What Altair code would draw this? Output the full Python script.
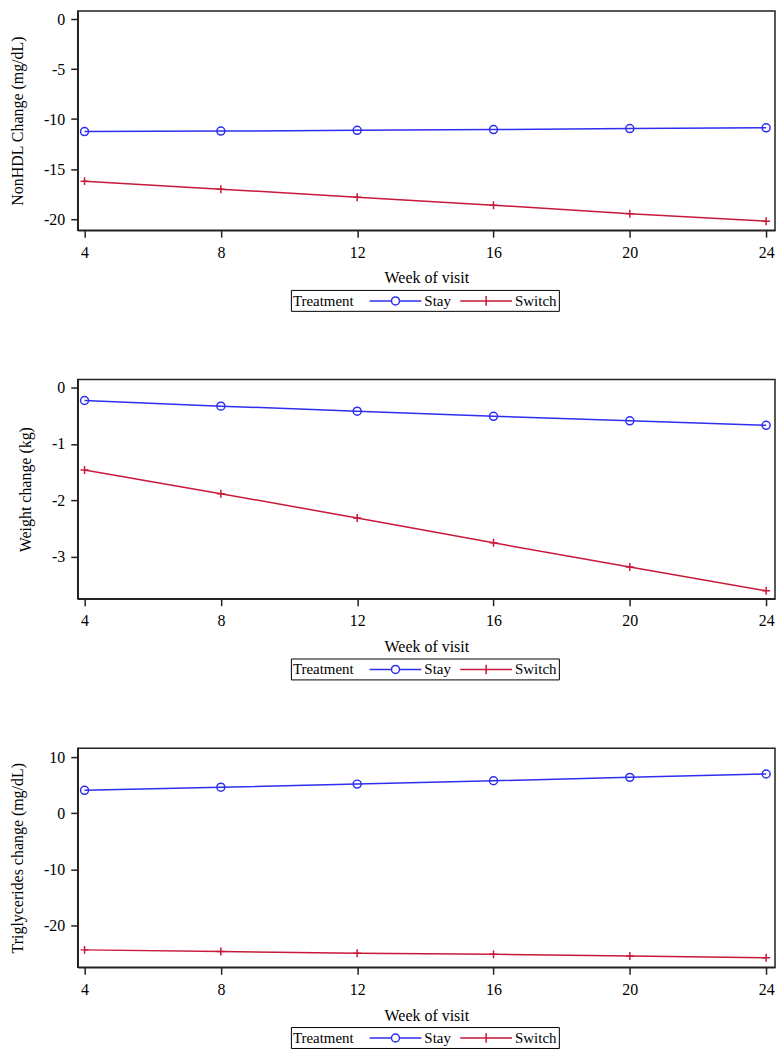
import altair as alt
import pandas as pd

# ---------------- data ----------------
weeks = [4, 8, 12, 16, 20, 24]
treatments = ["Stay", "Switch"]

nonhdl_stay = [-11.25, -11.2, -11.12, -11.05, -10.95, -10.87]
nonhdl_switch = [-16.2, -17.0, -17.8, -18.6, -19.45, -20.2]

weight_stay = [-0.23, -0.33, -0.42, -0.51, -0.59, -0.67]
weight_switch = [-1.46, -1.88, -2.31, -2.75, -3.18, -3.60]

tg_stay = [4.1, 4.65, 5.2, 5.8, 6.4, 7.0]
tg_switch = [-24.3, -24.6, -24.9, -25.1, -25.4, -25.7]

y_titles = ["NonHDL Change (mg/dL)", "Weight change (kg)", "Triglycerides change (mg/dL)"]
y_tick_values = [[0, -5, -10, -15, -20], [0, -1, -2, -3], [10, 0, -10, -20]]
y_domains = [[-21.1, 0.8], [-3.74, 0.14], [-27.4, 11.6]]
x_domain = [3.8, 24.26]
x_title = "Week of visit"
legend_title = "Treatment"

# ---------------- style ----------------
FONT = "Liberation Serif"
BLUE = "#2E2EF0"
RED = "#C8193A"
W, H = 700, 220

PLUS = "M-1,0H1M0,-1V1"
LEG_STAY = "M-3.25,0H-0.5A0.5,0.5,0,1,1,0.5,0A0.5,0.5,0,1,1,-0.5,0M0.5,0H3.25"
LEG_SWITCH = "M-3.25,0H3.25M0,-0.6V0.6"

LEGEND_PROPS = dict(
    orient="none", legendX=(W - 272) / 2, legendY=H + 60,
    direction="horizontal",
    title=legend_title, titleOrient="left", titleFont=FONT,
    titleFontSize=15, titleFontWeight="normal", titleColor="black",
    titlePadding=14, titleBaseline="middle",
    labelFont=FONT, labelFontSize=15, labelColor="black",
    strokeColor="black", fillColor="white", padding=2,
    symbolSize=256, symbolStrokeWidth=1.5,
    symbolFillColor="transparent", symbolOffset=18, labelOffset=20,
    columnPadding=6,
)


def panel(stay, switch, ytitle, ydom, yticks):
    df = pd.DataFrame({
        "Week": weeks + weeks,
        "Value": stay + switch,
        "Treatment": [treatments[0]] * len(weeks) + [treatments[1]] * len(weeks),
    })
    x = alt.X("Week:Q",
              scale=alt.Scale(domain=x_domain, nice=False, zero=False),
              axis=alt.Axis(values=weeks, title=x_title))
    y = alt.Y("Value:Q",
              scale=alt.Scale(domain=ydom, nice=False, zero=False),
              axis=alt.Axis(values=yticks, title=ytitle, labelExpr="toString(datum.value)"))
    color = alt.Color("Treatment:N",
                      scale=alt.Scale(domain=treatments, range=[BLUE, RED]),
                      legend=alt.Legend(**LEGEND_PROPS))
    base = alt.Chart(df)
    lines = base.mark_line(strokeWidth=1.5).encode(x=x, y=y, color=color)
    pts_stay = base.mark_point(shape="circle", filled=False, strokeWidth=1.5, size=64, opacity=1).encode(
        x=x, y=y, color=color).transform_filter(alt.datum.Treatment == treatments[0])
    pts_switch = base.mark_point(shape=PLUS, filled=False, strokeWidth=1.5, size=64, opacity=1).encode(
        x=x, y=y, color=color).transform_filter(alt.datum.Treatment == treatments[1])
    legend_src = base.mark_point(filled=False, strokeWidth=1.5, opacity=1).encode(
        x=x, y=y, color=color,
        shape=alt.Shape("Treatment:N",
                        scale=alt.Scale(domain=treatments, range=[LEG_STAY, LEG_SWITCH]),
                        legend=alt.Legend(**LEGEND_PROPS)),
    ).transform_filter("false")
    return alt.layer(lines, pts_stay, pts_switch, legend_src).properties(width=W, height=H)


chart = alt.vconcat(
    panel(nonhdl_stay, nonhdl_switch, y_titles[0], y_domains[0], y_tick_values[0]),
    panel(weight_stay, weight_switch, y_titles[1], y_domains[1], y_tick_values[1]),
    panel(tg_stay, tg_switch, y_titles[2], y_domains[2], y_tick_values[2]),
    spacing=66,
).resolve_scale(color="independent", shape="independent").properties(
    padding=0
).configure(
    font=FONT
).configure_view(
    stroke="#222222", strokeWidth=1.5
).configure_axis(
    grid=False,
    domainColor="#222222", domainWidth=1.5,
    tickColor="#222222", tickWidth=1.5, tickSize=7,
    labelFont=FONT, labelFontSize=16, labelColor="black",
    titleFont=FONT, titleFontSize=16, titleFontWeight="normal", titleColor="black",
).configure_axisY(
    titlePadding=18, labelPadding=6,
).configure_axisX(
    titlePadding=10, labelPadding=7,
)

chart.save("out.html", embed_options={"renderer": "svg", "actions": False})
